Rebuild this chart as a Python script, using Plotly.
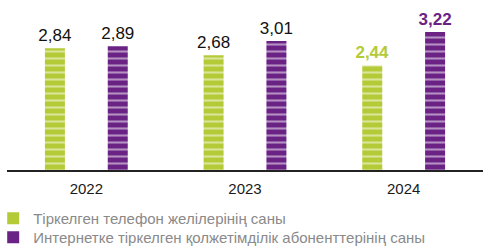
import plotly.graph_objects as go

years = ["2022", "2023", "2024"]
fixed_lines = [2.84, 2.68, 2.44]
internet_subs = [2.89, 3.01, 3.22]
fixed_labels = ["2,84", "2,68", "<b>2,44</b>"]
internet_labels = ["2,89", "3,01", "<b>3,22</b>"]
series_names = ["Тіркелген телефон желілерінің саны",
                "Интернетке тіркелген қолжетімділік абоненттерінің саны"]

GREEN = "#b4cb37"
PURPLE = "#6a2384"
FONT = "Liberation Sans, Arial, sans-serif"

fig = go.Figure()

def bar(vals, labels, color, offset, label_colors):
    return go.Bar(
        x=years, y=vals, width=0.126, offset=offset,
        marker=dict(color=color, line=dict(width=0),
                    pattern=dict(shape="-", fgcolor="white", bgcolor=color,
                                 size=7, solidity=0.3, fillmode="overlay")),
        text=labels, textposition="outside", cliponaxis=False,
        constraintext="none",
        textfont=dict(family=FONT, size=17, color=label_colors),
        showlegend=False, hoverinfo="skip",
    )

fig.add_trace(bar(fixed_lines, fixed_labels, GREEN, -0.261, ["#111111", "#111111", GREEN]))
fig.add_trace(bar(internet_subs, internet_labels, PURPLE, 0.135, ["#111111", "#111111", PURPLE]))

for name, color, lg in zip(series_names, [GREEN, PURPLE], ["legend", "legend2"]):
    fig.add_trace(go.Scatter(x=[None], y=[None], mode="markers", name=name, legend=lg,
                             marker=dict(symbol="square", size=13, color=color)))

leg_style = dict(x=-0.029, xanchor="left", yanchor="top", orientation="v",
                 font=dict(family=FONT, size=15, color="#8a8a8a"),
                 bgcolor="rgba(0,0,0,0)", itemsizing="constant")

fig.update_layout(
    width=497, height=249,
    margin=dict(l=7, r=14, t=20, b=79, autoexpand=False),
    plot_bgcolor="white", paper_bgcolor="white",
    barmode="overlay",
    xaxis=dict(type="category", range=[-0.5, 2.5], showgrid=False, showline=True,
               linecolor="#222222", linewidth=1.5, ticks="", ticklabelstandoff=4,
               tickfont=dict(family=FONT, size=15, color="#1a1a1a")),
    yaxis=dict(range=[0, 3.5], visible=False, showgrid=False, zeroline=False),
    legend=dict(y=-0.213, **leg_style),
    legend2=dict(y=-0.34, **leg_style),
    font=dict(family=FONT),
)

fig.write_html("out.html")
